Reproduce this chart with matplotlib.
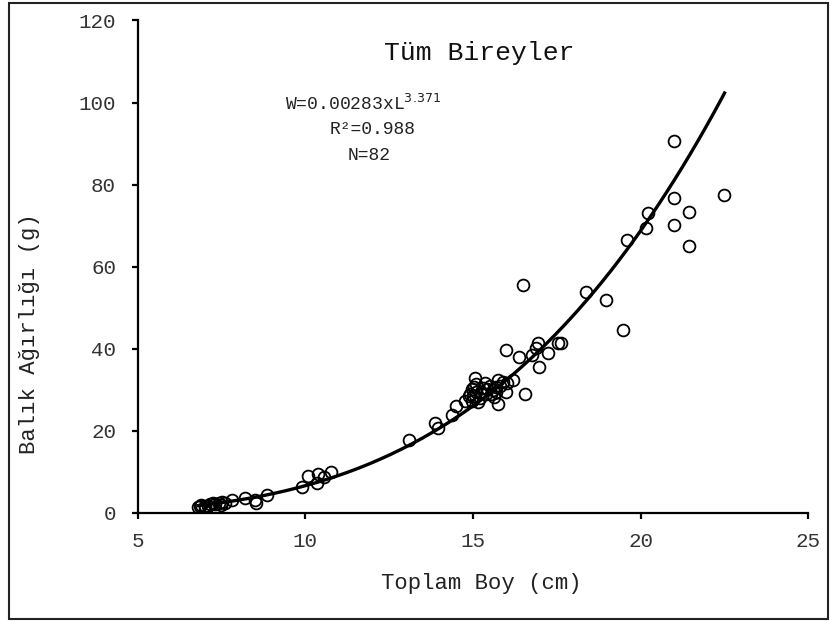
import numpy as np
import matplotlib
matplotlib.use("Agg")
import matplotlib.pyplot as plt
from matplotlib.patches import Rectangle

plt.rcParams['font.family'] = ['Liberation Mono', 'DejaVu Sans Mono']

# ---- data ----
lengths = [6.8, 6.85, 6.9, 7.0, 7.0, 7.1, 7.15, 7.24, 7.3, 7.44, 7.5, 7.53, 7.6, 7.8, 8.19, 8.49, 8.52, 8.87,
           9.89, 10.07, 10.34, 10.37, 10.57, 10.78,
           13.08, 13.88, 13.97, 14.36, 14.48,
           14.75, 14.87, 14.9, 14.96, 14.98, 15.0, 15.04, 15.07, 15.1, 15.1, 15.16, 15.2, 15.25, 15.3, 15.37,
           15.4, 15.43, 15.5, 15.55, 15.6, 15.64, 15.7, 15.7, 15.76, 15.76, 15.8, 15.9, 15.97, 16.0, 16.2, 16.56,
           15.97, 16.36, 16.48, 16.77, 16.89, 16.95, 16.98, 17.25, 17.52, 17.61,
           18.38, 18.98, 19.46, 19.58, 20.17, 20.23, 20.98, 20.98, 20.98, 21.45, 21.45, 22.47]
weights = [1.5, 1.7, 1.9, 1.7, 1.4, 1.8, 2.1, 2.4, 2.2, 2.4, 2.0, 2.7, 2.5, 3.2, 3.6, 3.2, 2.4, 4.4,
           6.3, 9.0, 7.3, 9.5, 8.7, 10.0,
           17.7, 21.9, 20.6, 23.8, 26.0,
           27.4, 28.4, 29.0, 30.1, 27.4, 28.5, 30.6, 32.8, 29.5, 31.5, 27.0, 28.0, 29.4, 30.5, 31.6,
           29.0, 30.1, 31.0, 29.1, 30.0, 28.2, 30.6, 29.5, 32.5, 26.5, 31.0, 32.0, 29.4, 31.6, 32.3, 28.9,
           39.8, 37.9, 55.6, 38.6, 40.3, 41.3, 35.5, 38.9, 41.5, 41.3,
           53.9, 52.0, 44.7, 66.6, 69.5, 73.1, 90.6, 76.8, 70.2, 73.4, 65.1, 77.5]

coef_a = 0.00283
coef_b = 3.371
fit_range = [6.8, 22.5]

x_ticks = [5, 10, 15, 20, 25]
y_ticks = [0, 20, 40, 60, 80, 100, 120]

title = "Tüm Bireyler"
xlabel = "Toplam Boy (cm)"
ylabel = "Balık Ağırlığı (g)"

W, H = 830, 621
fig = plt.figure(figsize=(W / 100, H / 100), dpi=100)

x0, x1 = 137.6, 808.4
yb, yt = 513.0, 20.5
ax = fig.add_axes([x0 / W, 1 - yb / H, (x1 - x0) / W, (yb - yt) / H])

ax.plot(lengths, weights, linestyle='none', marker='o', markersize=8.5,
        markerfacecolor='none', markeredgecolor='black', markeredgewidth=1.3, zorder=3)

Lfit = np.linspace(fit_range[0], fit_range[1], 200)
ax.plot(Lfit, coef_a * Lfit ** coef_b, color='black', linewidth=2.4, zorder=4)

ax.set_xlim(5, 25)
ax.set_ylim(0, 120)
ax.set_xticks(x_ticks)
ax.set_yticks(y_ticks)
ax.spines['top'].set_visible(False)
ax.spines['right'].set_visible(False)
for s in ('left', 'bottom'):
    ax.spines[s].set_linewidth(1.6)
ax.tick_params(axis='both', direction='out', length=4.5, width=1.6,
               labelsize=15, labelcolor='#333333')
ax.tick_params(axis='y', pad=11)
ax.tick_params(axis='x', pad=9)

fig.text(481 / W, 1 - 583 / H, xlabel, ha='center', va='center', fontsize=16, color='#222222')
fig.text(30 / W, 1 - 334 / H, ylabel, ha='center', va='center', rotation=90, fontsize=16, color='#222222')

fig.text(479 / W, 1 - 53 / H, title, ha='center', va='center', fontsize=19, color='#111111')
fig.text(285 / W, 1 - 104 / H, r"W=0.00283xL$^{3.371}$", ha='left', va='center', fontsize=13, color='#222222')
fig.text(373 / W, 1 - 130 / H, "R²=0.988", ha='center', va='center', fontsize=13, color='#222222')
fig.text(369 / W, 1 - 155 / H, "N=82", ha='center', va='center', fontsize=13, color='#222222')

fig.patches.append(Rectangle((9 / W, 2 / H), 819 / W, 616 / H, transform=fig.transFigure,
                             fill=False, edgecolor='#222222', linewidth=1.5))

fig.savefig('out.png', dpi=100)
